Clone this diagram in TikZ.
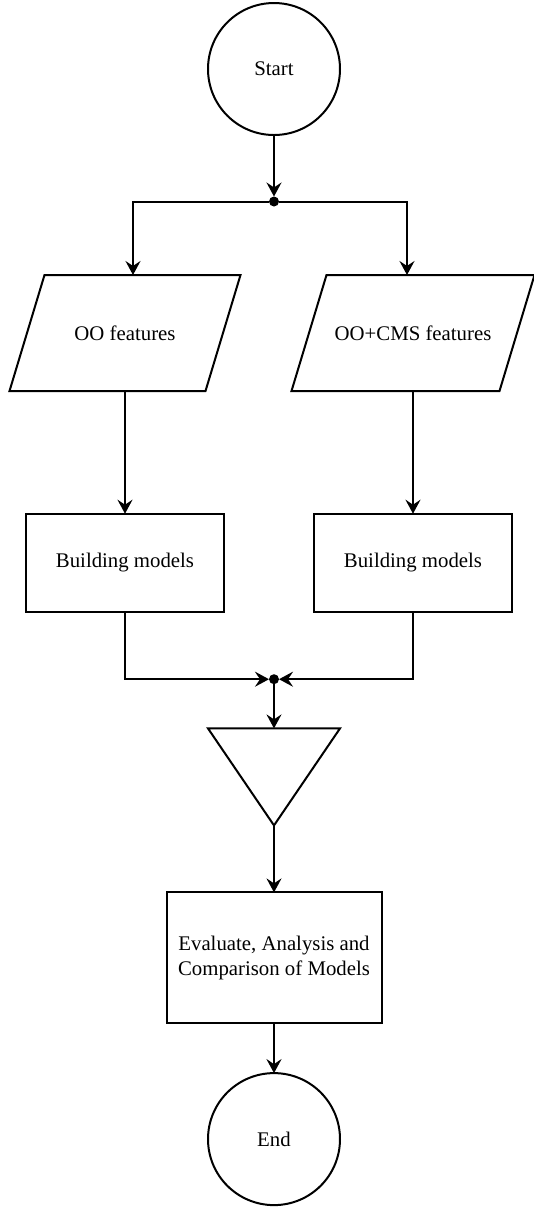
\documentclass[tikz,border=0pt]{standalone}
\usepackage{fontspec}
\setmainfont{Liberation Serif}
\usetikzlibrary{shapes.geometric, arrows.meta, positioning}
\tikzset{
    every node/.style={outer sep=0pt},
    terminal/.style={circle, draw, minimum size=66pt, inner sep=0pt, align=center},
    data/.style={rectangle, minimum width=115.5pt, minimum height=58pt, inner sep=0pt, align=center},
    process/.style={rectangle, draw, minimum width=99pt, minimum height=49pt, align=center},
    joint/.style={circle, fill, inner sep=0pt, minimum size=5pt},
    tribox/.style={rectangle, minimum width=66pt, minimum height=48.5pt, inner sep=0pt},
    arrow/.style={->, >={Stealth[length=7pt, width=7.5pt, inset=2.5pt]}}
}

\begin{document}
\begin{tikzpicture}[line width=1pt, font=\fontsize{10.4}{12.5}\selectfont]
    \useasboundingbox (0,0) rectangle (267pt,-603.5pt);
    \node (start) [terminal] at (137pt,-34.5pt) {Start};
    \node (split) [joint, below=30.75pt of start] {};
    \node (oo) [data, below=34.25pt of split, xshift=-74.5pt] {OO features};
    \node (oocms) [data, below=34.25pt of split, xshift=69.5pt, minimum width=121.5pt] {OO+CMS features};
    \node (build1) [process, below=61.35pt of oo] {Building models};
    \node (build2) [process, below=61.35pt of oocms] {Building models};
    \node (merge) [joint, below=31.25pt of build1, xshift=74.5pt] {};
    \node (tri) [tribox, below=22.1pt of merge] {};
    \node (eval) [process, below=33.5pt of tri, minimum width=107.5pt, minimum height=65.5pt] {Evaluate, Analysis and\\Comparison of Models};
    \node (end) [terminal, below=24.85pt of eval] {End};
    % parallelograms and inverted triangle
    \foreach \n in {oo,oocms}
        \draw ([xshift=17.5pt]\n.north west) -- (\n.north east) -- ([xshift=-17.5pt]\n.south east) -- (\n.south west) -- cycle;
    \draw (tri.north west) -- (tri.north east) -- (tri.south) -- cycle;
    \draw [arrow] (start) -- (split);
    \draw [arrow] (split) -| ([xshift=4pt]oo.north);
    \draw [arrow] (split) -| ([xshift=-3pt]oocms.north);
    \draw [arrow] (oo) -- (build1);
    \draw [arrow] (oocms) -- (build2);
    \draw [arrow] (build1) |- (merge);
    \draw [arrow] (build2) |- (merge);
    \draw [arrow] (merge) -- (tri);
    \draw [arrow] (tri.south) -- (eval);
    \draw [arrow] (eval) -- (end);
\end{tikzpicture}
\end{document}
